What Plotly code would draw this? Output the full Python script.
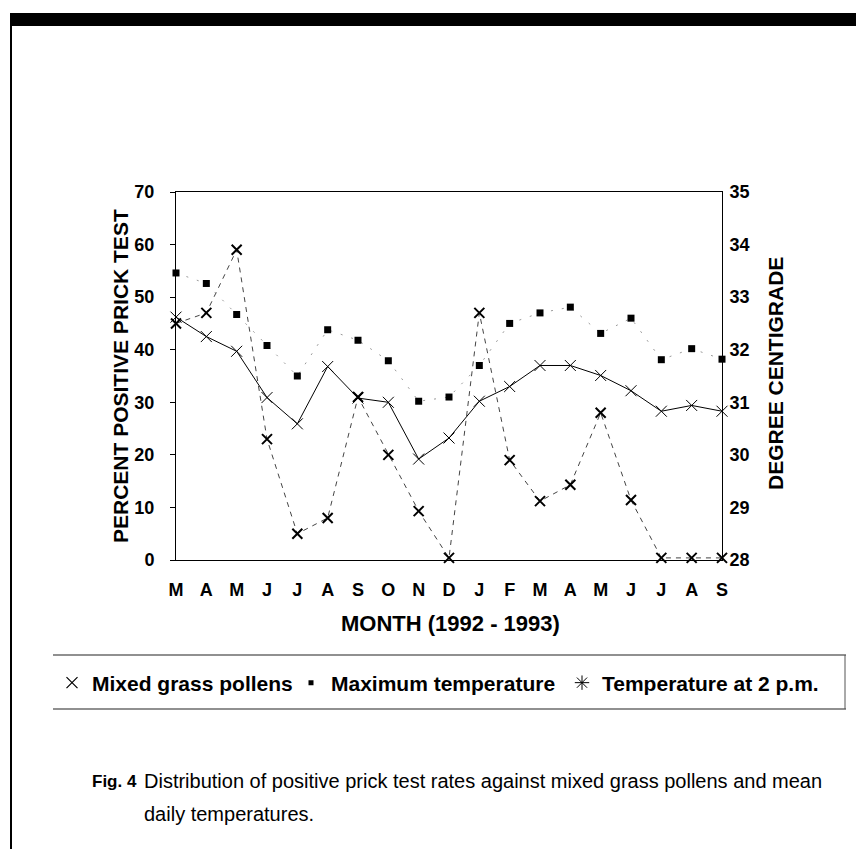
import plotly.graph_objects as go

months = ["M", "A", "M", "J", "J", "A", "S", "O", "N", "D", "J", "F", "M", "A", "M", "J", "J", "A", "S"]
pollens = [45, 47, 59, 23, 5, 8, 31, 20, 9.3, 0.4, 47, 19, 11.2, 14.3, 28, 11.4, 0.4, 0.4, 0.4]
max_temp = [33.46, 33.26, 32.67, 32.08, 31.5, 32.38, 32.18, 31.79, 31.02, 31.1, 31.7, 32.5,
            32.7, 32.81, 32.31, 32.6, 31.81, 32.02, 31.82]
temp_2pm = [32.62, 32.25, 31.97, 31.09, 30.59, 31.68, 31.08, 31.0, 29.92, 30.32, 31.02, 31.3,
            31.7, 31.7, 31.51, 31.22, 30.83, 30.94, 30.83]
left_ticks = [0, 10, 20, 30, 40, 50, 60, 70]
right_ticks = [28, 29, 30, 31, 32, 33, 34, 35]

FONT = "Liberation Sans, Arial, Helvetica, sans-serif"
W, H = 864, 849
L, R, T, B = 168, 714, 184, 552

def px(x):
    return (x - L) / (R - L)

def py(y):
    return (B - y) / (B - T)

xs = list(range(len(months)))

fig = go.Figure()
fig.add_trace(go.Scatter(
    x=xs, y=pollens, mode="lines+markers", name="Mixed grass pollens", yaxis="y",
    line=dict(color="#444444", width=1, dash="5px,5px"),
    marker=dict(symbol="x-thin-open", size=10, color="black", line=dict(color="black", width=2)),
    showlegend=False, cliponaxis=False))
fig.add_trace(go.Scatter(
    x=xs, y=max_temp, mode="lines+markers", name="Maximum temperature", yaxis="y2",
    line=dict(color="#9a9a9a", width=1, dash="2px,9px"),
    marker=dict(symbol="square", size=7, color="black"),
    showlegend=False, cliponaxis=False))
fig.add_trace(go.Scatter(
    x=xs, y=temp_2pm, mode="lines+markers", name="Temperature at 2 p.m.", yaxis="y2",
    line=dict(color="black", width=1),
    marker=dict(symbol="x-thin-open", size=11, color="black", line=dict(color="black", width=1)),
    showlegend=False, cliponaxis=False))

# legend-only entries (markers only, as in the reference legend), one legend each
fig.add_trace(go.Scatter(x=[None], y=[None], mode="markers", name="Mixed grass pollens",
                         legend="legend",
                         marker=dict(symbol="x-thin-open", size=11, color="black",
                                     line=dict(color="black", width=1.2))))
fig.add_trace(go.Scatter(x=[None], y=[None], mode="markers", name="Maximum temperature",
                         legend="legend2",
                         marker=dict(symbol="square", size=5, color="black")))
fig.add_trace(go.Scatter(x=[None], y=[None], mode="markers", name="Temperature at 2 p.m.",
                         legend="legend3",
                         marker=dict(symbol="asterisk-open", size=12, color="black",
                                     line=dict(color="black", width=1))))

leg_common = dict(orientation="h", y=py(675), xanchor="left", yanchor="middle",
                  font=dict(size=21, family=FONT, weight="bold"), bgcolor="rgba(0,0,0,0)",
                  itemclick=False, borderwidth=0)

fig.update_layout(
    width=W, height=H,
    margin=dict(l=L, r=W - R, t=T, b=H - B, pad=0),
    paper_bgcolor="white", plot_bgcolor="white",
    font=dict(family=FONT, size=18, color="black", weight="bold"),
    xaxis=dict(range=[0, 18], tickvals=xs, ticktext=months, showgrid=False, zeroline=False,
               showline=True, linecolor="black", linewidth=1, mirror=True, ticks="",
               ticklabelstandoff=13, tickfont=dict(size=18, family=FONT, weight="bold")),
    yaxis=dict(range=[0, 70], tickvals=left_ticks, showgrid=False, zeroline=False,
               showline=True, linecolor="black", linewidth=1, ticks="outside", ticklen=5,
               tickcolor="black", ticklabelstandoff=12,
               tickfont=dict(size=18, family=FONT, weight="bold")),
    yaxis2=dict(range=[28, 35], tickvals=right_ticks, overlaying="y", side="right",
                showgrid=False, zeroline=False, showline=True, linecolor="black", linewidth=1,
                ticks="", ticklabelstandoff=3,
                tickfont=dict(size=18, family=FONT, weight="bold")),
    legend=dict(x=px(44), **leg_common),
    legend2=dict(x=px(283), **leg_common),
    legend3=dict(x=px(554), **leg_common),
)

annotations = [
    dict(text="MONTH (1992 - 1993)", x=px(442), y=py(615), xref="paper", yref="paper",
         showarrow=False, xanchor="center", yanchor="middle",
         font=dict(size=22, family=FONT, weight="bold")),
    dict(text="PERCENT POSITIVE PRICK TEST", x=px(112), y=py(368), xref="paper", yref="paper",
         showarrow=False, textangle=-90, xanchor="center", yanchor="middle",
         font=dict(size=21, family=FONT, weight="bold")),
    dict(text="DEGREE CENTIGRADE", x=px(767), y=py(366), xref="paper", yref="paper",
         showarrow=False, textangle=-90, xanchor="center", yanchor="middle",
         font=dict(size=21, family=FONT, weight="bold")),
    dict(text="<b>Fig. 4</b>", x=px(82), y=py(773), xref="paper", yref="paper",
         showarrow=False, xanchor="left", yanchor="middle",
         font=dict(size=17, family=FONT, weight="normal")),
    dict(text="Distribution of positive prick test rates against mixed grass pollens and mean",
         x=px(134), y=py(773), xref="paper", yref="paper",
         showarrow=False, xanchor="left", yanchor="middle",
         font=dict(size=20, family=FONT, weight="normal")),
    dict(text="daily temperatures.", x=px(134), y=py(806), xref="paper", yref="paper",
         showarrow=False, xanchor="left", yanchor="middle",
         font=dict(size=20, family=FONT, weight="normal")),
]
fig.update_layout(annotations=annotations)

shapes = [
    # outer frame: thick top bar and left rule
    dict(type="rect", xref="paper", yref="paper", x0=px(2), x1=px(864), y0=py(5), y1=py(18),
         fillcolor="black", line=dict(width=0)),
    dict(type="line", xref="paper", yref="paper", x0=px(3), x1=px(3), y0=py(8), y1=py(849),
         line=dict(color="black", width=2)),
    # legend box
    dict(type="line", xref="paper", yref="paper", x0=px(45), x1=px(838), y0=py(647), y1=py(647),
         line=dict(color="#222222", width=1.2)),
    dict(type="line", xref="paper", yref="paper", x0=px(45), x1=px(838), y0=py(701), y1=py(701),
         line=dict(color="#222222", width=1.2)),
    dict(type="line", xref="paper", yref="paper", x0=px(837), x1=px(837), y0=py(647), y1=py(701),
         line=dict(color="#555555", width=1)),
]
fig.update_layout(shapes=shapes)

fig.write_html("out.html")
